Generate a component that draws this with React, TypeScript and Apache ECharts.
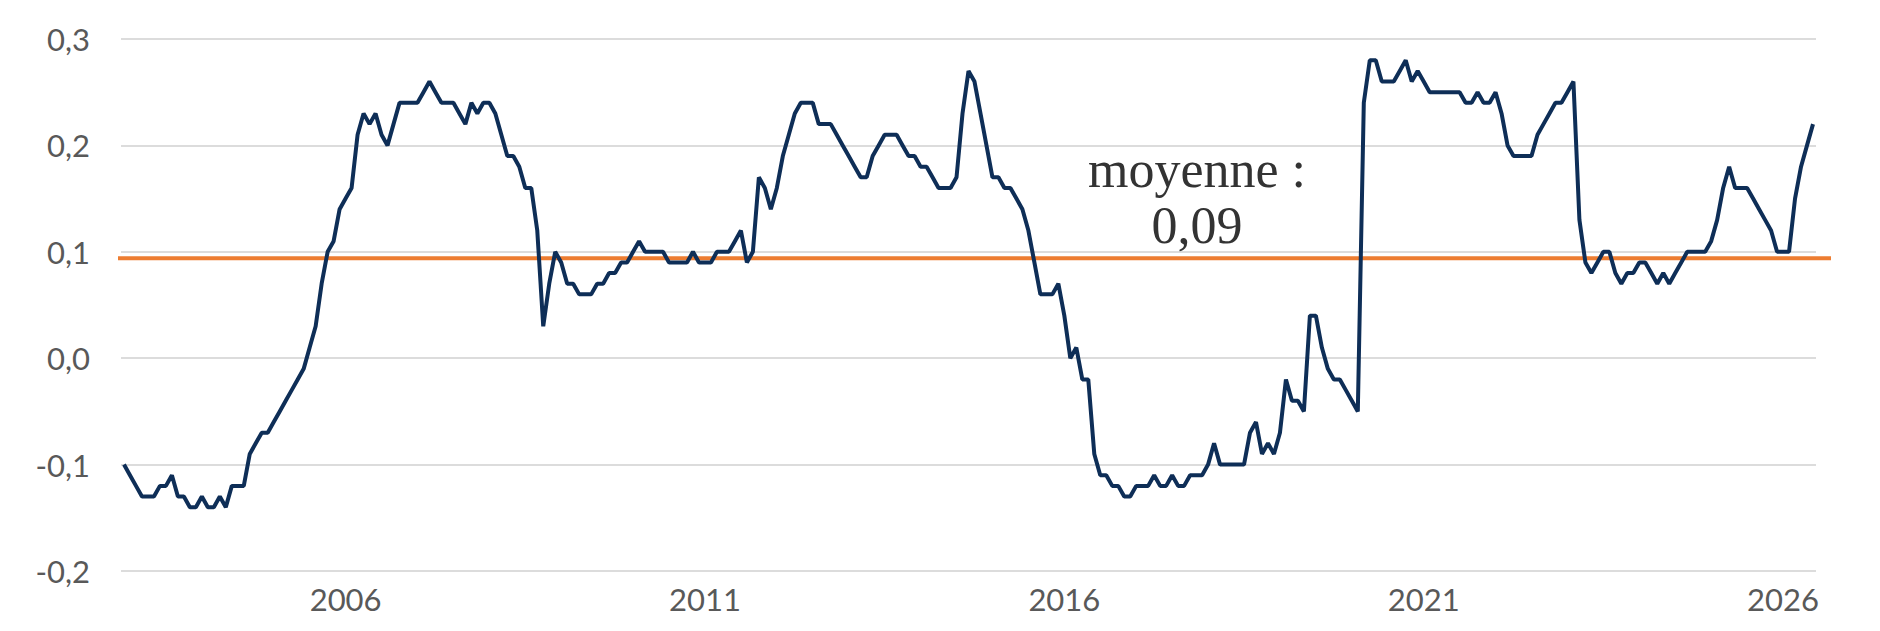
import React, { useEffect, useRef } from "react";
import * as echarts from "echarts";

// Monthly categories: Dec 2002 .. Jun 2026
const startYear = 2002;
const startMonth = 12;
const monthCount = 283;
const categories: string[] = [];
for (let k = 0; k < monthCount; k++) {
  const m0 = startMonth - 1 + k;
  const y = startYear + Math.floor(m0 / 12);
  const m = (m0 % 12) + 1;
  categories.push(`${y}-${m < 10 ? "0" + m : m}`);
}

const labelYears = [2006, 2011, 2016, 2021, 2026];

const values = [
  -0.10, -0.11, -0.12, -0.13, -0.13, -0.13, -0.12, -0.12, -0.11, -0.13,
  -0.13, -0.14, -0.14, -0.13, -0.14, -0.14, -0.13, -0.14, -0.12, -0.12,
  -0.12, -0.09, -0.08, -0.07, -0.07, -0.06, -0.05, -0.04, -0.03, -0.02,
  -0.01, 0.01, 0.03, 0.07, 0.10, 0.11, 0.14, 0.15, 0.16, 0.21,
  0.23, 0.22, 0.23, 0.21, 0.20, 0.22, 0.24, 0.24, 0.24, 0.24,
  0.25, 0.26, 0.25, 0.24, 0.24, 0.24, 0.23, 0.22, 0.24, 0.23,
  0.24, 0.24, 0.23, 0.21, 0.19, 0.19, 0.18, 0.16, 0.16, 0.12,
  0.03, 0.07, 0.10, 0.09, 0.07, 0.07, 0.06, 0.06, 0.06, 0.07,
  0.07, 0.08, 0.08, 0.09, 0.09, 0.10, 0.11, 0.10, 0.10, 0.10,
  0.10, 0.09, 0.09, 0.09, 0.09, 0.10, 0.09, 0.09, 0.09, 0.10,
  0.10, 0.10, 0.11, 0.12, 0.09, 0.10, 0.17, 0.16, 0.14, 0.16,
  0.19, 0.21, 0.23, 0.24, 0.24, 0.24, 0.22, 0.22, 0.22, 0.21,
  0.20, 0.19, 0.18, 0.17, 0.17, 0.19, 0.20, 0.21, 0.21, 0.21,
  0.20, 0.19, 0.19, 0.18, 0.18, 0.17, 0.16, 0.16, 0.16, 0.17,
  0.23, 0.27, 0.26, 0.23, 0.20, 0.17, 0.17, 0.16, 0.16, 0.15,
  0.14, 0.12, 0.09, 0.06, 0.06, 0.06, 0.07, 0.04, 0.00, 0.01,
  -0.02, -0.02, -0.09, -0.11, -0.11, -0.12, -0.12, -0.13, -0.13, -0.12,
  -0.12, -0.12, -0.11, -0.12, -0.12, -0.11, -0.12, -0.12, -0.11, -0.11,
  -0.11, -0.10, -0.08, -0.10, -0.10, -0.10, -0.10, -0.10, -0.07, -0.06,
  -0.09, -0.08, -0.09, -0.07, -0.02, -0.04, -0.04, -0.05, 0.04, 0.04,
  0.01, -0.01, -0.02, -0.02, -0.03, -0.04, -0.05, 0.24, 0.28, 0.28,
  0.26, 0.26, 0.26, 0.27, 0.28, 0.26, 0.27, 0.26, 0.25, 0.25,
  0.25, 0.25, 0.25, 0.25, 0.24, 0.24, 0.25, 0.24, 0.24, 0.25,
  0.23, 0.20, 0.19, 0.19, 0.19, 0.19, 0.21, 0.22, 0.23, 0.24,
  0.24, 0.25, 0.26, 0.13, 0.09, 0.08, 0.09, 0.10, 0.10, 0.08,
  0.07, 0.08, 0.08, 0.09, 0.09, 0.08, 0.07, 0.08, 0.07, 0.08,
  0.09, 0.10, 0.10, 0.10, 0.10, 0.11, 0.13, 0.16, 0.18, 0.16,
  0.16, 0.16, 0.15, 0.14, 0.13, 0.12, 0.10, 0.10, 0.10, 0.15,
  0.18, 0.20, 0.22,
];

const meanValue = 0.094;
const meanTextLines = ["moyenne :", "0,09"];

const yMin = -0.2;
const yMax = 0.3;
const yStep = 0.1;

const fmtY = (v: number) => v.toFixed(1).replace(".", ",");

export default function App() {
  const ref = useRef<HTMLDivElement>(null);

  useEffect(() => {
    document.body.style.margin = "0";
    if (!ref.current) return;
    const chart = echarts.init(ref.current, undefined, { renderer: "svg" });
    const labelFont = {
      color: "#595959",
      fontSize: 31,
      fontFamily: "Lato, 'DejaVu Sans', sans-serif",
    };
    chart.setOption({
      animation: false,
      backgroundColor: "#ffffff",
      grid: [
        { left: 121, right: 64, top: 39, bottom: 60 },
        { left: 118, right: 49, top: 39, bottom: 60 },
      ],
      xAxis: [
        {
          type: "category",
          gridIndex: 0,
          data: categories,
          boundaryGap: true,
          axisLine: { show: false },
          axisTick: { show: false },
          splitLine: { show: false },
          axisLabel: {
            ...labelFont,
            margin: 12,
            interval: (_i: number, v: string) =>
              v.endsWith("-01") && labelYears.includes(Number(v.slice(0, 4))),
            formatter: (v: string) => v.slice(0, 4),
          },
        },
        { type: "value", gridIndex: 1, min: 0, max: 1, show: false },
      ],
      yAxis: [
        {
          type: "value",
          gridIndex: 0,
          min: yMin,
          max: yMax,
          interval: yStep,
          axisLine: { show: false },
          axisTick: { show: false },
          splitLine: { lineStyle: { color: "#d0d0d0", width: 1.5 } },
          axisLabel: { ...labelFont, margin: 31, formatter: fmtY },
        },
        { type: "value", gridIndex: 1, min: yMin, max: yMax, show: false },
      ],
      series: [
        {
          type: "line",
          xAxisIndex: 1,
          yAxisIndex: 1,
          data: [
            [0, meanValue],
            [1, meanValue],
          ],
          symbol: "none",
          lineStyle: { color: "#ed7d31", width: 4 },
          z: 2,
          silent: true,
        },
        {
          type: "line",
          xAxisIndex: 0,
          yAxisIndex: 0,
          data: values,
          symbol: "none",
          lineStyle: { color: "#0e2e57", width: 4 },
          z: 3,
        },
      ],
      graphic: [
        {
          type: "text",
          x: 1197,
          y: 169,
          style: {
            text: meanTextLines[0],
            fontSize: 52,
            fontFamily: "'Liberation Serif', 'DejaVu Serif', serif",
            fill: "#333333",
            align: "center",
            verticalAlign: "middle",
          },
        },
        {
          type: "text",
          x: 1197,
          y: 225,
          style: {
            text: meanTextLines[1],
            fontSize: 52,
            fontFamily: "'Liberation Serif', 'DejaVu Serif', serif",
            fill: "#333333",
            align: "center",
            verticalAlign: "middle",
          },
        },
      ],
    });
    return () => chart.dispose();
  }, []);

  return (
    <div
      ref={ref}
      style={{ position: "absolute", left: 0, top: 0, width: 1880, height: 631 }}
    />
  );
}
